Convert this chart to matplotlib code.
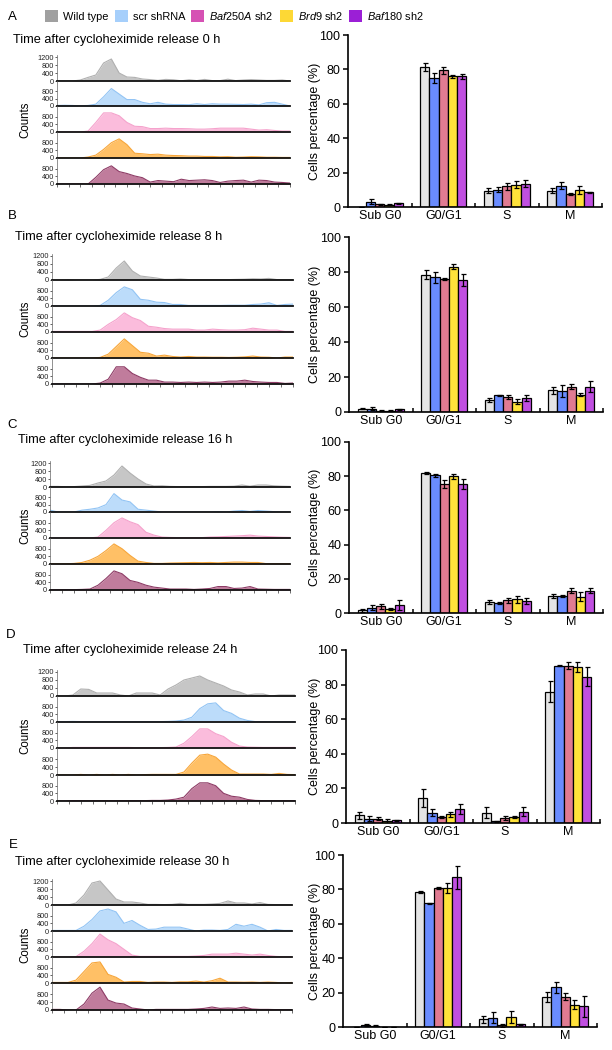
import numpy as np
import matplotlib
matplotlib.use('Agg')
import matplotlib.pyplot as plt
from matplotlib.patches import Patch

plt.rcParams['font.family'] = ['Liberation Sans', 'DejaVu Sans']
plt.rcParams['mathtext.fontset'] = 'custom'
plt.rcParams['mathtext.rm'] = 'Liberation Sans'
plt.rcParams['mathtext.it'] = 'Liberation Sans:italic'

# ---------------- data ----------------
GENOTYPES = ['Wild type', 'scr shRNA', r'$\it{Baf250A}$ sh2', r'$\it{Brd9}$ sh2', r'$\it{Baf180}$ sh2']
PHASES = ['Sub G0', 'G0/G1', 'S', 'M']
TIMES = [0, 8, 16, 24, 30]
PANEL_LABELS = ['A', 'B', 'C', 'D', 'E']
BINS = list(range(31))

# histogram counts (rows: Wild type, scr shRNA, Baf250A, Brd9, Baf180)
HIST_0H = [
    [0,0,0,50,180,300,900,1100,400,200,180,100,70,30,80,60,10,60,20,80,20,20,90,20,50,70,50,30,30,50,0],
    [30,40,30,10,30,100,500,950,650,350,350,200,120,200,100,80,80,70,120,80,120,100,100,90,80,100,60,180,200,100,0],
    [0,0,0,0,50,500,1000,1000,850,500,300,280,180,180,200,180,180,170,150,150,170,200,200,200,200,150,100,120,80,50,50],
    [0,0,0,0,50,150,450,800,1000,700,250,220,180,200,150,130,120,100,100,80,80,60,70,40,50,70,60,40,40,30,30],
    [0,0,0,0,0,350,750,950,650,550,420,330,100,180,150,120,250,180,200,220,180,80,150,180,200,100,200,180,100,80,50],
]
HIST_8H = [
    [0,0,20,0,0,0,30,150,600,950,450,200,150,100,30,30,50,20,20,20,20,20,20,30,40,60,50,80,20,20,20],
    [0,0,0,0,0,0,30,300,700,1000,850,350,300,200,180,80,80,30,30,30,30,30,40,40,40,80,100,170,30,80,100],
    [30,30,30,30,30,30,100,400,650,1000,750,600,300,250,180,150,150,150,100,100,150,120,100,100,120,200,150,100,100,30,30],
    [0,0,0,0,0,0,30,200,600,1000,650,300,250,100,150,80,50,80,50,50,40,40,30,40,60,100,50,40,0,50,50],
    [0,0,0,0,0,0,50,250,900,900,550,350,200,200,100,100,80,100,80,100,80,100,150,150,200,130,100,80,80,30,50],
]
HIST_16H = [
    [30,30,10,20,50,80,200,300,600,1050,700,400,150,50,60,30,20,20,20,20,30,30,30,40,100,40,100,100,60,40,30],
    [100,0,0,0,100,150,220,400,1000,650,550,150,100,50,0,0,0,0,0,0,0,20,0,50,80,30,80,50,20,0,0],
    [0,0,0,0,0,0,50,400,800,1050,850,700,300,150,50,30,20,20,20,20,50,60,80,100,120,150,100,80,60,40,30],
    [10,10,10,30,80,200,400,700,1050,800,450,150,80,30,30,50,60,70,80,70,80,60,80,100,100,80,80,20,20,20,20],
    [20,20,20,20,30,50,250,600,1000,850,500,400,250,150,100,50,50,50,30,50,80,180,180,80,100,180,50,40,30,30,30],
]
HIST_24H = [
    [0,0,50,350,330,150,150,150,50,0,150,150,150,50,350,550,800,900,1000,800,650,500,300,200,50,100,100,0,50,50,50],
    [20,20,30,20,20,20,20,20,20,20,20,20,20,20,30,50,100,250,700,950,1000,600,450,200,80,20,20,10,10,10,10],
    [0,0,30,30,30,30,30,30,30,30,20,20,20,20,30,50,250,600,1000,1000,750,600,300,100,50,40,30,30,30,30,30],
    [0,0,0,30,0,30,0,30,0,30,0,20,30,30,30,30,150,600,1000,1050,900,550,250,50,50,50,50,30,80,30,20],
    [0,0,20,20,20,20,20,20,20,20,20,20,30,30,50,100,200,650,950,950,800,400,250,200,80,30,20,20,20,20,20],
]
HIST_30H = [
    [0,0,0,100,500,1100,1200,750,300,150,150,100,30,30,20,30,80,30,30,30,50,80,200,100,100,50,120,30,20,20,20],
    [30,30,30,30,250,600,1050,1150,1000,400,550,300,80,100,200,200,200,100,0,50,50,30,80,350,250,350,200,0,80,30,30],
    [0,0,0,20,300,700,1200,900,700,400,100,30,30,30,30,30,30,30,50,80,150,150,150,200,150,100,150,80,30,10,10],
    [30,30,30,150,600,1050,1100,450,300,50,80,80,30,50,50,30,60,60,100,50,120,250,50,50,40,50,30,50,30,0,30],
    [30,30,0,0,300,850,1150,500,350,300,100,50,0,30,30,30,30,30,50,80,150,80,100,80,150,50,30,30,20,20,20],
]

# bar chart means / errors (rows: genotypes, cols: Sub G0, G0/G1, S, M)
MEAN_0H = [[0, 81.5, 9.5, 9.5], [3, 75, 10, 12.5], [1.5, 79.5, 12, 7.5], [1.2, 76, 13, 10], [2.2, 76, 13.5, 8.5]]
ERR_0H = [[0, 2.5, 1.5, 1.5], [1.5, 3, 1.5, 2], [0.5, 2, 2, 0.5], [0.3, 1, 2, 2.5], [0.3, 1.5, 2, 0.5]]
MEAN_8H = [[2, 78.5, 7, 12.5], [2, 77, 9.5, 12], [0.8, 76, 8.5, 14.5], [0.8, 83, 6, 10], [1.5, 75.5, 8, 14.5]]
ERR_8H = [[0.5, 2.5, 1, 2], [0.7, 3, 0.3, 3.5], [0.3, 0.5, 1, 1.5], [0.3, 1.5, 1.5, 1], [0.5, 3.5, 1.5, 3]]
MEAN_16H = [[1.5, 82, 6.5, 10], [3, 80.5, 6, 10], [4, 75.5, 7.5, 13], [2.5, 80, 8, 9.5], [4.5, 75.5, 7, 13]]
ERR_16H = [[1, 0.7, 1, 1], [1.5, 0.7, 0.7, 0.7], [1.5, 2.5, 1.5, 1.5], [0.5, 1.5, 2, 2.5], [3, 3, 2, 1.5]]
MEAN_24H = [[4.5, 14.5, 6, 76], [2.5, 6, 1, 91], [2.5, 3.5, 3, 91], [1, 5, 3.5, 90], [1.5, 8, 6.5, 84.5]]
ERR_24H = [[2, 5, 3, 6], [1.5, 2, 0.3, 0.3], [0.7, 0.7, 1, 2], [1.5, 1.5, 0.7, 3], [0.3, 3, 2.5, 5.5]]
MEAN_30H = [[0, 78.5, 4.5, 17.5], [1.2, 72, 5.5, 23], [0.8, 81, 1, 17.5], [0, 81, 6, 13], [0, 87, 1.5, 12]]
ERR_30H = [[0, 0.7, 2, 3], [0.8, 0.3, 3, 3], [0.5, 0.5, 1, 2], [0, 3, 3.5, 2.5], [0, 6.5, 0.5, 6]]

HISTS = [HIST_0H, HIST_8H, HIST_16H, HIST_24H, HIST_30H]
MEANS = [MEAN_0H, MEAN_8H, MEAN_16H, MEAN_24H, MEAN_30H]
ERRS = [ERR_0H, ERR_8H, ERR_16H, ERR_24H, ERR_30H]

# ---------------- styles ----------------
LEG_COL = ['#a0a0a0', '#a6cffb', '#d651b4', '#fdd835', '#9b1fd6']
FILL_COL = ['#c6c6c6', '#bcdcfa', '#fbbcdc', '#ffc066', '#c07c9c']
EDGE_COL = ['#b0b0b0', '#92c4f4', '#f5a2cc', '#f7a63a', '#8e3c66']
BAR_COL = ['#e4e4e4', '#6a8cff', '#e07b92', '#ffe23a', '#c04fe0']

W, H = 612, 1050
fig = plt.figure(figsize=(W / 100, H / 100), dpi=100)


def ax_px(x0, y0, x1, y1):
    return fig.add_axes([x0 / W, 1 - y1 / H, (x1 - x0) / W, (y1 - y0) / H])


# layout in pixels
HX = [(57, 290), (52, 293), (50, 290), (57, 295), (52, 292)]
BASE = [[81, 106, 132, 158, 184], [280, 306, 332, 358, 384], [487, 512, 538, 564, 590],
        [696, 722, 748, 775, 801], [905, 931, 957, 983, 1010]]
TITLE_POS = [(13, 40), (15, 237), (18, 440), (23, 650), (15, 862)]
LETTER_POS = [(12, 17), (12, 216), (12, 425), (11, 635), (13, 845)]
BAR_BOX = [(348, 35, 602, 207), (349, 237, 603, 412), (349, 442, 603, 613),
           (346, 650, 600, 823), (343, 855, 597, 1027)]

for p in range(5):
    x0, x1 = HX[p]
    bl = BASE[p]
    for k in range(5):
        top = bl[k] - 26 if k == 0 else bl[k - 1]
        ax = ax_px(x0, top, x1, bl[k])
        y = HISTS[p][k]
        ax.fill_between(BINS, y, 0, color=FILL_COL[k], lw=0, zorder=1)
        ax.plot(BINS, y, color=EDGE_COL[k], lw=0.8, zorder=2)
        ax.set_xlim(BINS[0], BINS[-1])
        ax.set_ylim(0, 1300 if k == 0 else 1360)
        ax.patch.set_alpha(0)
        ax.set_yticks([0, 400, 800, 1200] if k == 0 else [0, 400, 800])
        ax.tick_params(axis='y', labelsize=5.3, length=1.5, width=0.5, pad=0.8, colors='#222222')
        for s in ['top', 'right']:
            ax.spines[s].set_visible(False)
        ax.spines['left'].set_linewidth(0.5)
        ax.spines['left'].set_color('#666666')
        ax.spines['bottom'].set_linewidth(1.3)
        ax.spines['bottom'].set_color('#111111')
        if k == 4:
            ax.set_xticks(np.linspace(BINS[0], BINS[-1], 21))
            ax.set_xticklabels([])
            ax.tick_params(axis='x', length=1.8, width=0.5, colors='#333333')
        else:
            ax.set_xticks([])
    fig.text(25 / W, 1 - ((bl[0] - 26 + bl[4]) / 2) / H, 'Counts', rotation=90,
             ha='center', va='center', fontsize=8.3)
    tx, ty = TITLE_POS[p]
    fig.text(tx / W, 1 - ty / H, f'Time after cycloheximide release {TIMES[p]} h',
             ha='left', va='center', fontsize=9.2)
    lx, ly = LETTER_POS[p]
    fig.text(lx / W, 1 - ly / H, PANEL_LABELS[p], ha='center', va='center', fontsize=9.5)

    # bar chart
    bx0, by0, bx1, by1 = BAR_BOX[p]
    ax = ax_px(bx0, by0, bx1, by1)
    xc = np.arange(len(PHASES))
    w = 0.145
    for g in range(5):
        ax.bar(xc + (g - 2) * w, MEANS[p][g], w, yerr=ERRS[p][g], color=BAR_COL[g],
               edgecolor='black', linewidth=0.9,
               error_kw=dict(ecolor='black', elinewidth=0.9, capsize=1.8, capthick=0.9))
    ax.set_xlim(-0.5, 3.5)
    ax.set_ylim(0, 100)
    ax.set_yticks(range(0, 101, 20))
    ax.set_xticks(xc)
    ax.set_xticklabels(PHASES)
    ax.set_xticks([0.5, 1.5, 2.5, 3.5], minor=True)
    ax.tick_params(axis='x', which='major', length=0, labelsize=9, pad=2)
    ax.tick_params(axis='x', which='minor', length=3, width=1.1, direction='in')
    ax.tick_params(axis='y', labelsize=9, length=3.5, width=1.1, pad=2)
    for s in ['top', 'right']:
        ax.spines[s].set_visible(False)
    for s in ['left', 'bottom']:
        ax.spines[s].set_linewidth(1.2)
    ax.set_ylabel('Cells percentage (%)', fontsize=9)
    ax.yaxis.set_label_coords(-(bx0 - 321) / (bx1 - bx0), 0.5)

handles = [Patch(facecolor=c, edgecolor='none') for c in LEG_COL]
fig.legend(handles, GENOTYPES, loc='center left', bbox_to_anchor=(45 / W, 1 - 16 / H),
           ncol=5, frameon=False, fontsize=7.9, handlelength=1.2, handleheight=1.3,
           handletextpad=0.45, columnspacing=0.55, borderaxespad=0, borderpad=0)

fig.savefig('out.png', dpi=100)
